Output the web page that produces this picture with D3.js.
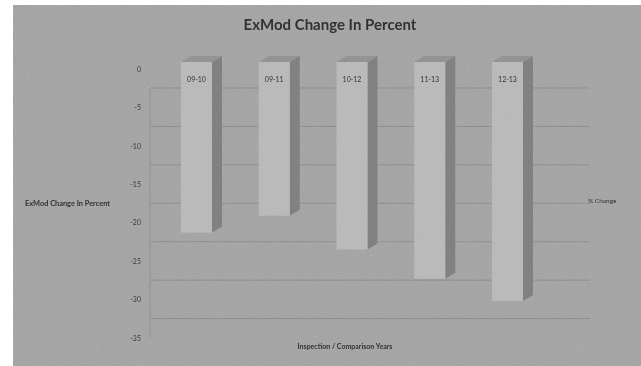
<!DOCTYPE html>
<html>
<head>
<meta charset="utf-8">
<script src="https://cdn.jsdelivr.net/npm/d3@7"></script>
<style>
  html, body { margin: 0; padding: 0; background: #fff; }
  svg { display: block; }
  text { font-family: Lato, "Open Sans", sans-serif; }
</style>
</head>
<body>
<svg id="chart" width="641" height="366"></svg>
<script>
// ExMod change per inspection / comparison period (percent)
const categories = ["09-10", "09-11", "10-12", "11-13", "12-13"];
const changeValues = [-22.2, -20.0, -24.4, -28.2, -31.1];
const yTicks = [0, -5, -10, -15, -20, -25, -30, -35];

const chartTitle = "ExMod Change In Percent";
const yAxisTitle = "ExMod Change In Percent";
const xAxisTitle = "Inspection / Comparison Years";
const legendLabel = "% Change";

const svg = d3.select("#chart");
const W = 641, H = 366;

// 3D depth offset of the columns
const depthX = 10, depthY = 6;
const barWidth = 31;

const x = d3.scalePoint().domain(categories).range([196.5, 507.5]);
const y = d3.scaleLinear().domain([0, -35]).range([62, 331]);

// grainy texture
const defs = svg.append("defs");
const noise = defs.append("filter").attr("id", "grain")
  .attr("x", 0).attr("y", 0).attr("width", "100%").attr("height", "100%");
noise.append("feTurbulence").attr("type", "fractalNoise")
  .attr("baseFrequency", 0.9).attr("numOctaves", 2).attr("seed", 4);
noise.append("feColorMatrix").attr("type", "saturate").attr("values", 0);

// chart area
svg.append("rect").attr("x", 13).attr("y", 5)
  .attr("width", W - 13).attr("height", H - 5).attr("fill", "#ababab");

// back wall gridlines
const gridOffset = 26;
svg.append("g").attr("class", "grid")
  .selectAll("line").data(yTicks.filter(d => d >= -30)).join("line")
  .attr("x1", 150).attr("x2", 590)
  .attr("y1", d => y(d) + gridOffset).attr("y2", d => y(d) + gridOffset)
  .attr("stroke", "#939393").attr("stroke-width", 1);

// left wall edge
svg.append("line").attr("x1", 150).attr("x2", 150)
  .attr("y1", y(0) + gridOffset).attr("y2", y(-35) + 7)
  .attr("stroke", "#a0a0a0").attr("stroke-width", 2);

// columns
const bars = svg.append("g").attr("class", "bars")
  .selectAll("g").data(categories.map((c, i) => ({ c, v: changeValues[i] })))
  .join("g");

bars.append("path") // side face
  .attr("d", d => {
    const x1 = x(d.c) + barWidth / 2, t = y(0), b = y(d.v);
    return `M${x1},${t} L${x1 + depthX},${t - depthY} L${x1 + depthX},${b - depthY} L${x1},${b} Z`;
  })
  .attr("fill", "#858585");

bars.append("path") // top face
  .attr("d", d => {
    const x0 = x(d.c) - barWidth / 2, x1 = x0 + barWidth, t = y(0);
    return `M${x0},${t} L${x0 + depthX},${t - depthY} L${x1 + depthX},${t - depthY} L${x1},${t} Z`;
  })
  .attr("fill", "#989898");

bars.append("rect") // front face
  .attr("x", d => x(d.c) - barWidth / 2)
  .attr("y", y(0))
  .attr("width", barWidth)
  .attr("height", d => y(d.v) - y(0))
  .attr("fill", "#c0c0c0");

bars.append("text")
  .attr("x", d => x(d.c))
  .attr("y", y(0) + 20)
  .attr("text-anchor", "middle")
  .attr("font-size", 7)
  .attr("fill", "#333")
  .text(d => d.c);

// value axis
const axis = svg.append("g")
  .attr("transform", "translate(141,7)")
  .call(d3.axisLeft(y).tickValues(yTicks).tickSize(0).tickPadding(0)
    .tickFormat(d => String(d)));
axis.select(".domain").remove();
axis.selectAll("text").attr("font-size", 7).attr("fill", "#3c3c3c")
  .attr("font-family", "Lato, sans-serif");

// titles
svg.append("text").attr("x", 330).attr("y", 30)
  .attr("text-anchor", "middle").attr("font-size", 15).attr("font-weight", "bold")
  .attr("fill", "#333").text(chartTitle);

svg.append("text").attr("x", 25).attr("y", 206)
  .attr("font-size", 6.5).attr("font-weight", "bold")
  .attr("textLength", 85).attr("lengthAdjust", "spacingAndGlyphs")
  .attr("fill", "#333").text(yAxisTitle);

svg.append("text").attr("x", 588).attr("y", 203)
  .attr("font-size", 6.5).attr("fill", "#333").text(legendLabel);

svg.append("text").attr("x", 345).attr("y", 349)
  .attr("text-anchor", "middle").attr("font-size", 7).attr("font-weight", "bold")
  .attr("fill", "#333").text(xAxisTitle);

// grain overlay
svg.append("rect").attr("x", 13).attr("y", 5)
  .attr("width", W - 13).attr("height", H - 5)
  .attr("filter", "url(#grain)").attr("opacity", 0.22)
  .style("mix-blend-mode", "multiply");
</script>
</body>
</html>
